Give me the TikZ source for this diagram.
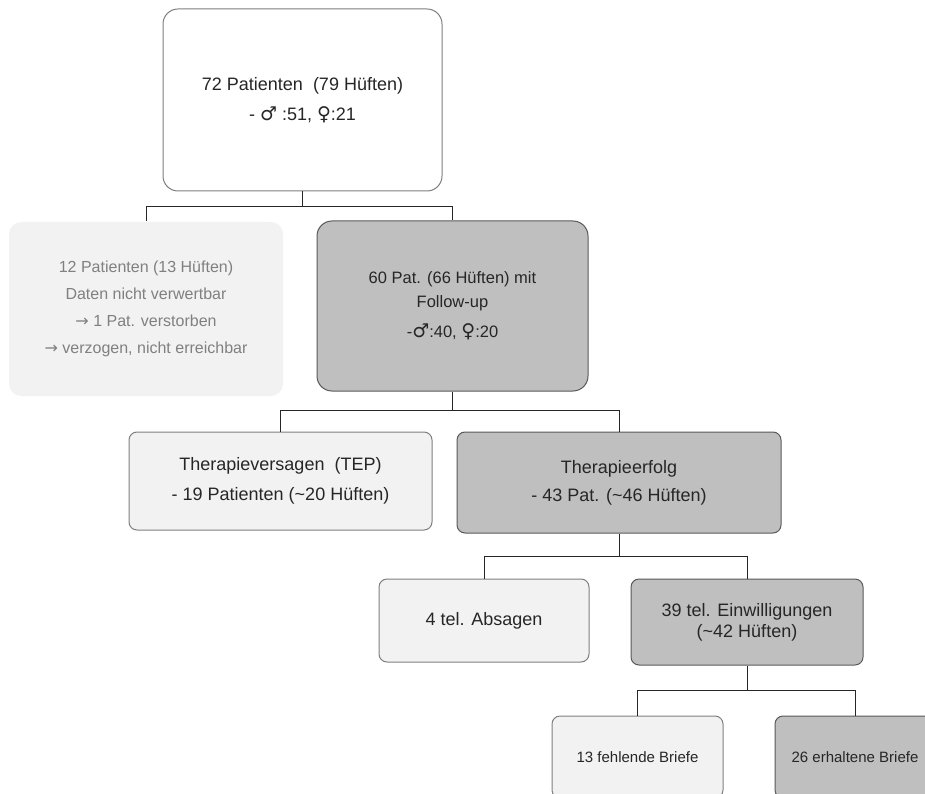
\documentclass[tikz,border=0pt]{standalone}
\usepackage{fontspec}
\setmainfont{Liberation Sans}
\newfontfamily\symfont{DejaVu Sans}
\newcommand{\male}{{\symfont\fontsize{19}{19}\selectfont ♂}}
\newcommand{\female}{{\symfont\fontsize{19}{19}\selectfont ♀}}
\newcommand{\rarr}{{\symfont\fontsize{16}{16}\selectfont →}}
\definecolor{lightfill}{HTML}{F2F2F2}
\definecolor{darkfill}{HTML}{BFBFBF}
\definecolor{borderdark}{HTML}{595959}
\definecolor{borderlight}{HTML}{7F7F7F}
\definecolor{txt}{HTML}{262626}
\definecolor{greytxt}{HTML}{808080}
\tikzset{
  box/.style={rectangle, align=center, inner sep=0pt, text=txt,
    font=\fontsize{18}{30}\selectfont, line width=1pt},
  whitebox/.style={box, draw=borderlight, fill=white, rounded corners=15pt},
  ghostbox/.style={box, fill=lightfill, text=greytxt, rounded corners=12pt,
    font=\fontsize{16}{27}\selectfont},
  lightbox/.style={box, draw=borderlight, fill=lightfill, rounded corners=8pt},
  darkbox/.style={box, draw=borderdark, fill=darkfill, rounded corners=8pt},
  link/.style={draw=txt, line width=1pt}
}
\begin{document}
\begin{tikzpicture}[x=1pt, y=-1pt]
\useasboundingbox (0,0) rectangle (925,794);
\clip (0,0) rectangle (925,794);

\node[whitebox, minimum width=279pt, minimum height=182pt] (top) at (302.5,100)
  {72 Patienten\ \ (79 Hüften)\\- \male\ :51, \female:21};

\node[ghostbox, minimum width=274pt, minimum height=174pt] (lost) at (146,309)
  {12 Patienten (13 Hüften)\\Daten nicht verwertbar\\\rarr\ 1 Pat. verstorben\\\rarr\ verzogen, nicht erreichbar};

\node[darkbox, rounded corners=15pt, minimum width=271pt, minimum height=170pt,
  font=\fontsize{16.5}{24}\selectfont] (fu) at (452.5,306)
  {60 Pat. (66 Hüften) mit\\Follow-up\\[6pt]-\male:40, \female:20};

\node[lightbox, minimum width=303pt, minimum height=98pt] (tv) at (280.5,481)
  {Therapieversagen\ \ (TEP)\\- 19 Patienten (\textasciitilde20 Hüften)};

\node[darkbox, minimum width=324pt, minimum height=101pt,
  font=\fontsize{18}{28}\selectfont] (te) at (619,482.5)
  {Therapieerfolg\\- 43 Pat. (\textasciitilde46 Hüften)};

\node[lightbox, minimum width=210pt, minimum height=83pt] (abs) at (484,620.5)
  {4 tel. Absagen};

\node[darkbox, minimum width=232pt, minimum height=86pt,
  font=\fontsize{18}{21}\selectfont] (ein) at (747,622)
  {39 tel. Einwilligungen\\(\textasciitilde42 Hüften)};

\node[lightbox, minimum width=171pt, minimum height=82pt,
  font=\fontsize{15}{18}\selectfont] (feh) at (637.5,757)
  {13 fehlende Briefe};

\node[darkbox, minimum width=160pt, minimum height=82pt,
  font=\fontsize{15}{18}\selectfont] (erh) at (855,757)
  {26 erhaltene Briefe};

% connectors
\draw[link] (top.south) -- ++(0,15) coordinate (j1);
\draw[link] (j1) -| (lost.north);
\draw[link] (j1) -| (fu.north);

\draw[link] (fu.south) -- ++(0,19) coordinate (j2);
\draw[link] (j2) -| (tv.north);
\draw[link] (j2) -| (te.north);

\draw[link] (te.south) -- ++(0,23) coordinate (j3);
\draw[link] (j3) -| (abs.north);
\draw[link] (j3) -| (ein.north);

\draw[link] (ein.south) -- ++(0,25) coordinate (j4);
\draw[link] (j4) -| (feh.north);
\draw[link] (j4) -| (erh.north);
\end{tikzpicture}
\end{document}
